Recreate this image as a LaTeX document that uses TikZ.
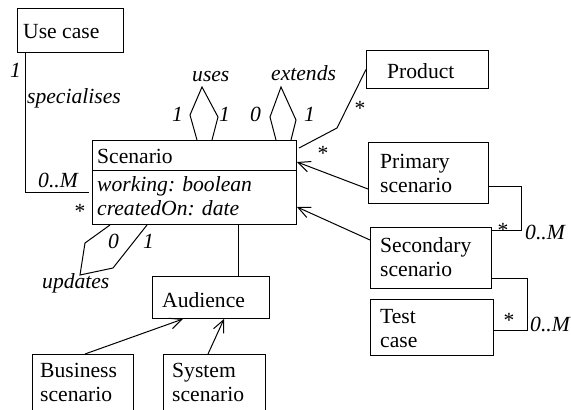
\documentclass[tikz,border=0pt]{standalone}
\usepackage{fontspec}
\setmainfont{Liberation Serif}
\newfontfamily\dgfont{Liberation Serif}
\usetikzlibrary{arrows.meta,calc}
\tikzset{
  box/.style={draw, line width=1pt, inner sep=0pt, anchor=north west},
  txt/.style={anchor=base west, inner sep=0pt, font=\dgfont\fontsize{21.6}{24}\selectfont},
  itl/.style={anchor=base west, inner sep=0pt, font=\dgfont\fontsize{21.6}{24}\selectfont\itshape},
  star/.style={anchor=base, inner sep=0pt, font=\dgfont\fontsize{21.6}{24}\selectfont},
  conn/.style={line width=1pt},
  gen/.style={line width=1pt, -{Straight Barb[length=12pt,width=11pt,line width=1pt]}},
}
\newcommand{\twol}[2]{\begin{tabular}[t]{@{}l@{}}#1\\#2\end{tabular}}
\begin{document}
\begin{tikzpicture}[x=1pt,y=-1pt]
\useasboundingbox (0,0) rectangle (571,410);
% boxes
\node[box, minimum width=106pt, minimum height=44pt] (usecase) at (17,8) {};
\node[box, minimum width=204pt, minimum height=84pt] (scen) at (92,140) {};
\node[box, minimum width=122pt, minimum height=38pt] (prod) at (366,50) {};
\node[box, minimum width=120pt, minimum height=61pt] (prim) at (368,142) {};
\node[box, minimum width=121pt, minimum height=61pt] (sec) at (370,227) {};
\node[box, minimum width=123pt, minimum height=56pt] (test) at (370,299) {};
\node[box, minimum width=117pt, minimum height=42pt] (aud) at (152,276) {};
\node[box, minimum width=101pt, minimum height=56pt] (bus) at (32,354) {};
\node[box, minimum width=102pt, minimum height=56pt] (sys) at (163,354) {};
% texts
\node[txt] (tuse) at (23,38) {Use case};
\node[txt] (tscen) at (97,163) {Scenario};
\node[itl] (tattr) at (97,191) {\twol{working: boolean}{createdOn: date}};
\node[txt] (tprod) at (387,78) {Product};
\node[txt] (tprim) at (380,168) {\twol{Primary}{scenario}};
\node[txt] (tsec) at (380,252) {\twol{Secondary}{scenario}};
\node[txt] (ttest) at (380,323) {\twol{Test}{case}};
\node[txt] (taud) at (162,307) {Audience};
\node[txt] (tbus) at (40,377) {\twol{Business}{scenario}};
\node[txt] (tsys) at (172,377) {\twol{System}{scenario}};
% compartment divider
\draw[conn] (scen.west |- 0,170) -- (scen.east |- 0,170);
% specialises
\draw[conn] ($(usecase.south west)+(8,0)$) |- ($(scen.west |- 0,192)+(-3,0)$);
\node[itl] (l1) at (10,77) {1};
\node[itl] (lspec) at (27,103) {specialises};
\node[itl] (l0m1) at (38,187) {0..M};
\node[star] (s1) at (80,218) {*};
% uses
\coordinate (u1) at ($(scen.north west)+(105,0)$);
\coordinate (u2) at ($(scen.north west)+(120,0)$);
\draw[conn] (u1) -- (190,115) -- (202,87) -- (218,117) -- (u2);
\node[itl] (luses) at (192,81) {uses};
\node[itl] (lu1) at (172,121) {1};
\node[itl] (lu2) at (219,121) {1};
% extends
\coordinate (e1) at ($(scen.north west)+(184,0)$);
\coordinate (e2) at ($(scen.north west)+(199,0)$);
\draw[conn] (e1) -- (270,117) -- (281,87) -- (296,120) -- (e2);
\node[itl] (lext) at (271,80) {extends};
\node[itl] (le0) at (250,121) {0};
\node[itl] (le1) at (304,121) {1};
% product
\draw[conn] ($(scen.north east)+(2,8)$) -- (337,128) -- (prod.west);
\node[star] (s2) at (360,115) {*};
\node[star] (s3) at (323,160) {*};
% generalisations
\draw[gen] ($(prim.south west)+(0,-15)$) -- ($(scen.north east)+(0,22)$);
\draw[gen] ($(sec.north west)+(0,13)$) -- ($(scen.north east)+(0,67)$);
% primary - secondary
\draw[conn] ($(prim.north east)+(0,44)$) -| (521,230) -- ($(sec.north east)+(0,3)$);
\node[star] (s4) at (503,237) {*};
\node[itl] (l0m2) at (525,239) {0..M};
% secondary - test
\draw[conn] ($(sec.north east)+(0,51)$) -| (527,330) -- ($(test.north east)+(0,31)$);
\node[star] (s5) at (509,327) {*};
\node[itl] (l0m3) at (530,331) {0..M};
% audience
\draw[conn] ($(scen.south west)+(146,0)$) -- ($(aud.north west)+(86,0)$);
% updates
\coordinate (d1) at ($(scen.south west)+(18,0)$);
\coordinate (d2) at ($(scen.south west)+(55,0)$);
\draw[conn] (d1) -- (85,243) -- (80,275) -- (113,268) -- (d2);
\node[itl] (l0u) at (108,248) {0};
\node[itl] (l1u) at (143,248) {1};
\node[itl] (lupd) at (42,288) {updates};
% business, system
\draw[gen] ($(bus.north west)+(53,0)$) -- ($(aud.south west)+(31,0)$);
\draw[gen] ($(sys.north west)+(45,0)$) -- ($(aud.south west)+(72,0)$);
\end{tikzpicture}
\end{document}
